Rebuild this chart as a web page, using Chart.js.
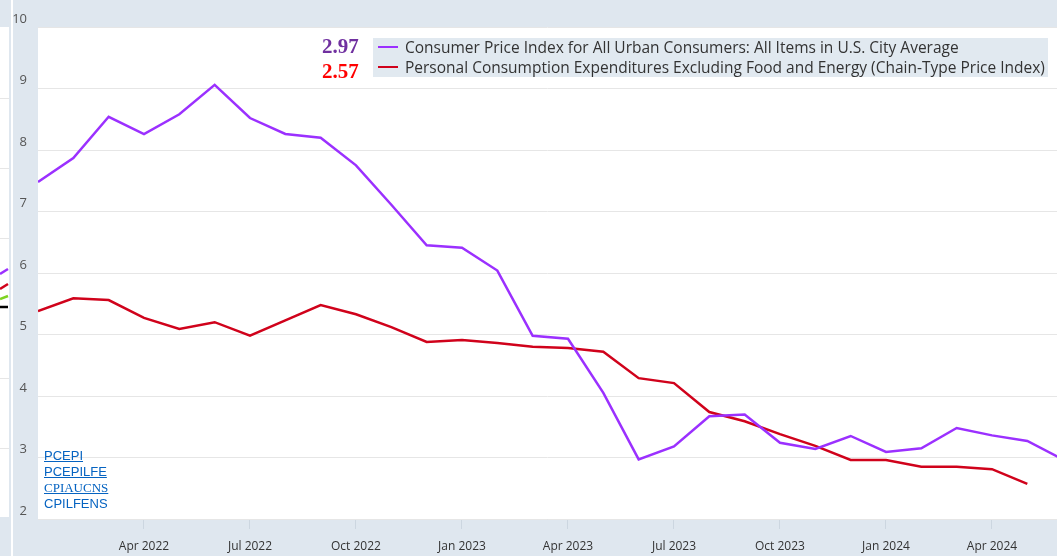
<!DOCTYPE html>
<html>
<head>
<meta charset="utf-8">
<script src="https://cdn.jsdelivr.net/npm/chart.js@4.4.1/dist/chart.umd.min.js"></script>
<style>
  html, body { margin: 0; padding: 0; background: #fff; }
  #wrap { position: relative; width: 1057px; height: 556px; overflow: hidden; }
  #chart { position: absolute; left: 0; top: 0; }
  .legend {
    position: absolute; left: 373px; top: 38px; width: 675px; height: 39px;
    background: #e1e9f0; font-family: 'Open Sans', sans-serif; font-size: 15.5px; line-height: 20px; color: #333;
  }
  .legend div { position: absolute; left: 32px; white-space: nowrap; }
  .legend span { position: absolute; left: 5px; width: 20px; height: 2px; }
  .val { position: absolute; left: 322px; font: bold 21px 'Liberation Serif', serif; }
  .links { position: absolute; left: 44px; top: 448px; font-size: 13px; line-height: 16px; color: #0563c1; }
  .links a { color: #0563c1; display: block; }
</style>
</head>
<body>
<div id="wrap">
  <canvas id="chart" width="1057" height="556"></canvas>
  <div class="val" style="top:34px;color:#7030a0">2.97</div>
  <div class="val" style="top:59px;color:#ff0000">2.57</div>
  <div class="legend">
    <span style="top:8px;background:#9b30ff"></span>
    <div style="top:-1px">Consumer Price Index for All Urban Consumers: All Items in U.S. City Average</div>
    <span style="top:28px;background:#d0021b"></span>
    <div style="top:19px">Personal Consumption Expenditures Excluding Food and Energy (Chain-Type Price Index)</div>
  </div>
  <div class="links">
    <a href="#" style="font-family:'Liberation Sans',sans-serif">PCEPI</a>
    <a href="#" style="font-family:'Liberation Sans',sans-serif">PCEPILFE</a>
    <a href="#" style="font-family:'Liberation Serif',serif">CPIAUCNS</a>
    <a style="font-family:'Liberation Sans',sans-serif;text-decoration:none">CPILFENS</a>
  </div>
</div>
<script>
const months = ['Jan 2022', 'Feb 2022', 'Mar 2022', 'Apr 2022', 'May 2022', 'Jun 2022', 'Jul 2022', 'Aug 2022',
  'Sep 2022', 'Oct 2022', 'Nov 2022', 'Dec 2022', 'Jan 2023', 'Feb 2023', 'Mar 2023', 'Apr 2023', 'May 2023',
  'Jun 2023', 'Jul 2023', 'Aug 2023', 'Sep 2023', 'Oct 2023', 'Nov 2023', 'Dec 2023', 'Jan 2024', 'Feb 2024',
  'Mar 2024', 'Apr 2024', 'May 2024', 'Jun 2024'];

const cpi = [7.48, 7.87, 8.54, 8.26, 8.58, 9.06, 8.52, 8.26, 8.20, 7.75, 7.11, 6.45, 6.41, 6.04, 4.98, 4.93,
  4.05, 2.97, 3.18, 3.67, 3.70, 3.24, 3.14, 3.35, 3.09, 3.15, 3.48, 3.36, 3.27, 2.97];

const corePce = [5.38, 5.59, 5.56, 5.27, 5.09, 5.20, 4.98, 5.23, 5.48, 5.33, 5.12, 4.88, 4.91, 4.86, 4.80, 4.78,
  4.72, 4.29, 4.21, 3.74, 3.59, 3.38, 3.19, 2.96, 2.96, 2.85, 2.85, 2.81, 2.57];

const tickMonths = ['Apr 2022', 'Jul 2022', 'Oct 2022', 'Jan 2023', 'Apr 2023', 'Jul 2023', 'Oct 2023', 'Jan 2024', 'Apr 2024'];

const toPoints = (arr) => arr.map((v, i) => ({ x: i, y: v }));

// FRED-like frame: gray bands, cut-off neighbour chart on the left
const frame = {
  id: 'frame',
  beforeDraw(chart) {
    const { ctx, chartArea: { left, top, right, bottom } } = chart;
    ctx.save();
    ctx.fillStyle = '#dfe7ef';
    ctx.fillRect(0, 0, chart.width, chart.height);
    ctx.fillStyle = '#fff';
    ctx.fillRect(left, top, right - left, bottom - top);
    ctx.fillRect(0, 27, 9, 490);
    ctx.fillRect(11, 0, 2, chart.height);
    ctx.strokeStyle = '#e6e6e6';
    ctx.lineWidth = 1;
    [98, 168, 238, 378, 448].forEach((y) => {
      ctx.beginPath(); ctx.moveTo(0, y + 0.5); ctx.lineTo(9, y + 0.5); ctx.stroke();
    });
    ctx.lineWidth = 2.5;
    [['#9b30ff', 274, 269], ['#d0021b', 289, 284], ['#7ed321', 299, 296], ['#000', 307, 307]].forEach(([c, y0, y1]) => {
      ctx.strokeStyle = c;
      ctx.beginPath(); ctx.moveTo(0, y0); ctx.lineTo(8, y1); ctx.stroke();
    });
    ctx.strokeStyle = '#ccd6e0';
    ctx.lineWidth = 1;
    ctx.beginPath(); ctx.moveTo(left, bottom + 0.5); ctx.lineTo(right, bottom + 0.5); ctx.stroke();
    ctx.restore();
  },
};

new Chart(document.getElementById('chart'), {
  type: 'line',
  data: {
    datasets: [
      { label: 'CPI', data: toPoints(cpi), borderColor: '#9b30ff', borderWidth: 2.5, pointRadius: 0, tension: 0 },
      { label: 'Core PCE', data: toPoints(corePce), borderColor: '#d0021b', borderWidth: 2.5, pointRadius: 0, tension: 0 },
    ],
  },
  options: {
    responsive: false,
    animation: false,
    layout: { padding: { top: 27, right: 0, left: 0, bottom: 0 } },
    scales: {
      x: {
        type: 'linear',
        min: 0,
        max: 28.84,
        afterBuildTicks: (axis) => {
          axis.ticks = tickMonths.map((m) => ({ value: months.indexOf(m) }));
        },
        afterFit: (axis) => { axis.height = 37; },
        ticks: {
          autoSkip: false,
          maxRotation: 0,
          padding: 10,
          color: '#333',
          font: { family: 'Open Sans', size: 12 },
          callback: (v) => months[v],
        },
        grid: { drawOnChartArea: false, drawTicks: true, tickLength: 10, color: '#ccd6e0' },
        border: { display: false },
      },
      y: {
        min: 2,
        max: 10,
        afterBuildTicks: (axis) => {
          axis.ticks = [2, 3, 4, 5, 6, 7, 8, 9, 10].map((v) => ({ value: v }));
        },
        afterFit: (axis) => { axis.width = 38; },
        ticks: {
          crossAlign: 'near',
          padding: 11,
          labelOffset: -8,
          color: '#555',
          font: { family: 'Open Sans', size: 13 },
        },
        grid: { color: '#e6e6e6', drawTicks: false },
        border: { display: false },
      },
    },
    plugins: {
      legend: { display: false },
      tooltip: { enabled: false },
    },
  },
  plugins: [frame],
});
</script>
</body>
</html>
